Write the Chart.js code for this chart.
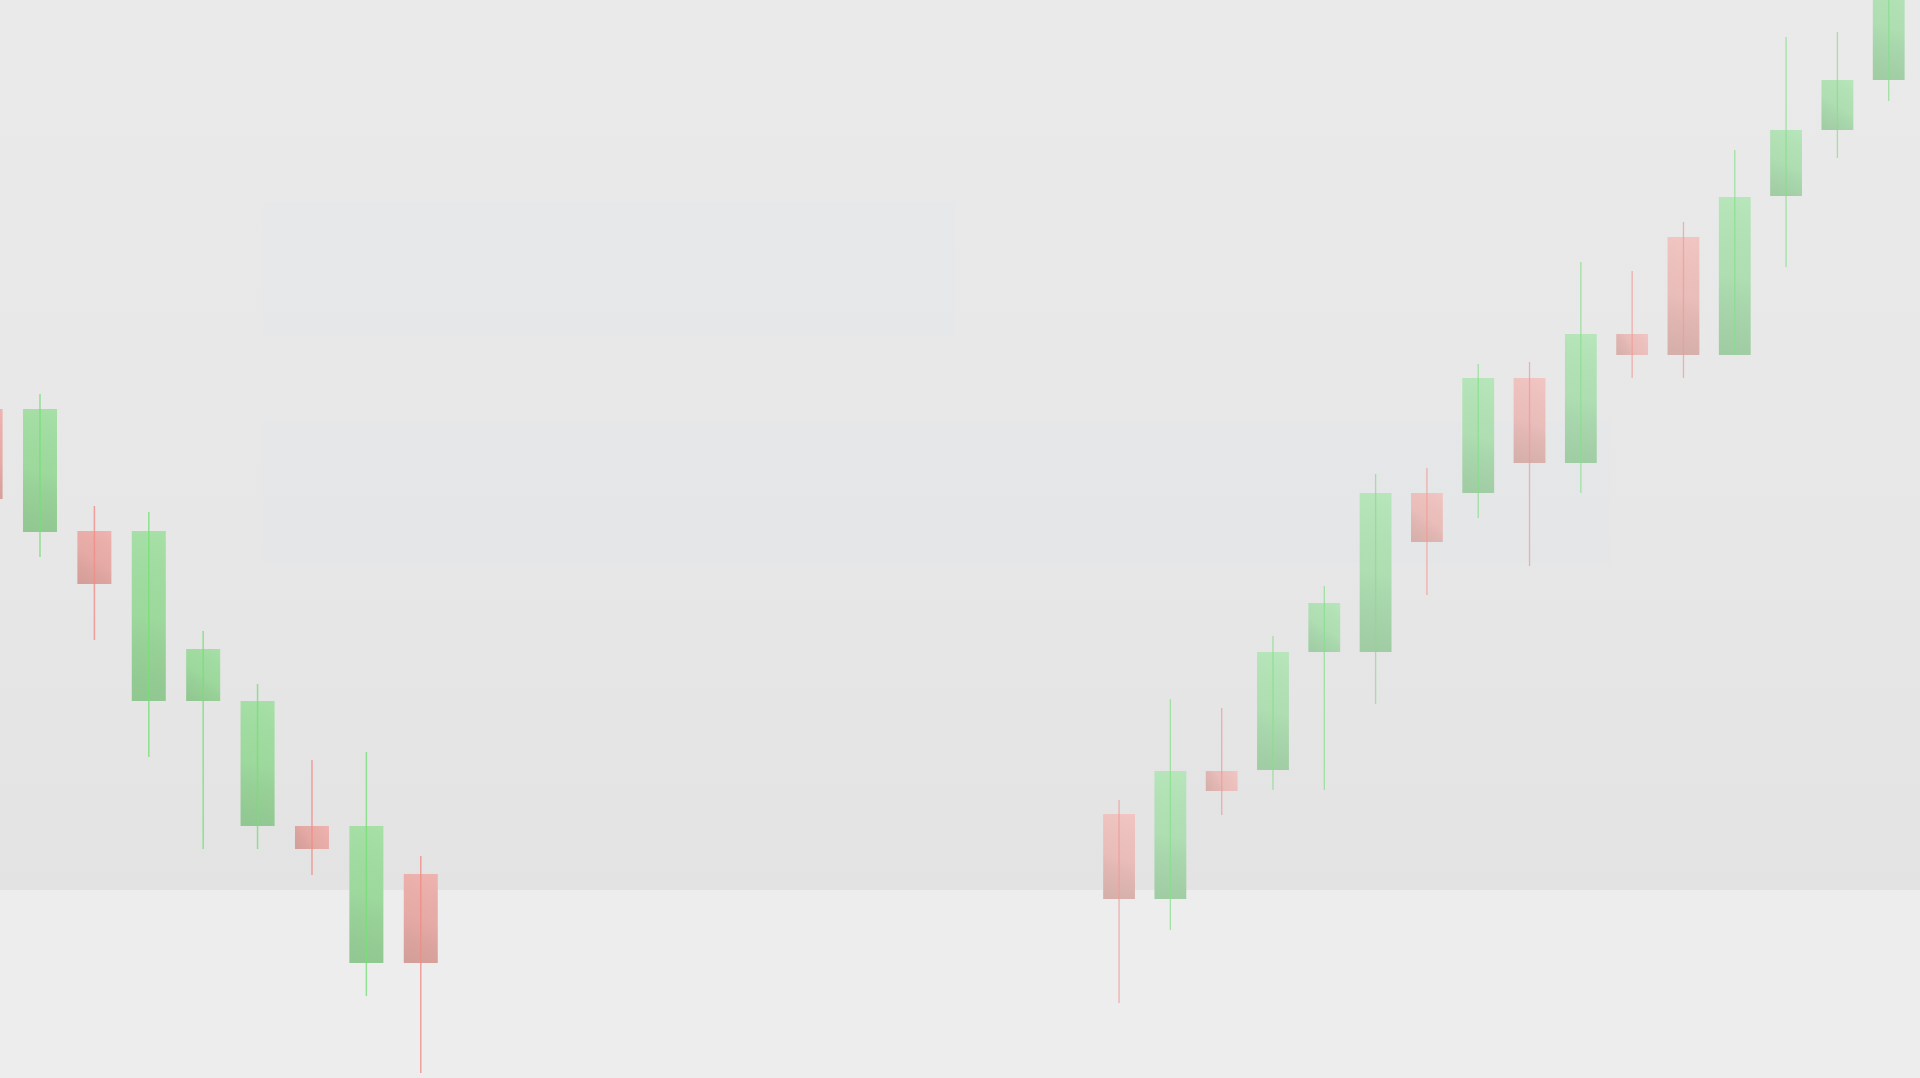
<!DOCTYPE html>
<html>
<head>
<meta charset="utf-8">
<title>Candles</title>
<script src="https://cdn.jsdelivr.net/npm/chart.js@4.4.1/dist/chart.umd.min.js"></script>
<style>
  html, body { margin: 0; padding: 0; background: #e8e8e8; overflow: hidden; }
  #wrap { width: 1920px; height: 1078px; }
</style>
</head>
<body>
<div id="wrap"><canvas id="candleChart" width="1920" height="1078"></canvas></div>
<script>
// left run of sessions (falling)
var leftOpen  = [66.9, 54.6, 54.7, 37.7, 37.7, 25.2, 25.2, 11.5, 20.4];
var leftClose = [57.9, 66.9, 49.4, 54.7, 42.9, 37.7, 22.9, 25.2, 11.5];
var leftHigh  = [68.5, 68.4, 57.2, 56.6, 44.7, 39.4, 31.8, 32.6, 22.2];
var leftLow   = [56.0, 52.1, 43.8, 32.1, 22.9, 22.9, 20.3, 8.2, 0.5];

// right run of sessions (rising)
var rightOpen  = [26.4, 17.9, 30.7, 30.8, 42.6, 42.6, 58.5, 58.5, 70.0, 61.5, 74.4, 84.1, 72.3, 88.2, 94.8, 99.8];
var rightClose = [17.9, 30.7, 28.7, 42.6, 47.5, 58.5, 53.6, 70.0, 61.5, 74.4, 72.3, 72.3, 88.1, 94.8, 99.8, 110.5];
var rightHigh  = [27.8, 37.9, 37.0, 44.2, 49.2, 60.4, 61.0, 71.4, 71.6, 81.6, 80.7, 85.6, 92.8, 104.1, 104.6, 112.0];
var rightLow   = [7.5, 14.8, 26.3, 28.8, 28.8, 37.4, 48.3, 56.0, 51.2, 58.5, 70.0, 70.0, 72.3, 81.1, 92.0, 97.7];

function pairs(a, b) {
    return a.map(function(v, i) { return {x: i, y: [v, b[i]]}; });
}
function upDown(open, close, up, down) {
    return open.map(function(o, i) { return close[i] >= o ? up : down; });
}
// hidden axes: no ticks, so bar width comes from session spacing only
function noTicks(scale) { scale.ticks = []; }

// paper background + faint watermark tint
var backdrop = {
    id: 'backdrop',
    beforeDraw: function(chart) {
        var c = chart.ctx, w = chart.width, h = chart.height;
        c.save();
        var g = c.createLinearGradient(0, 0, 0, 890);
        g.addColorStop(0, '#eaeaea');
        g.addColorStop(0.6, '#e7e7e7');
        g.addColorStop(1, '#e3e3e3');
        c.fillStyle = g;
        c.fillRect(0, 0, w, 890);
        c.fillStyle = '#ededed';
        c.fillRect(0, 890, w, h - 890);
        c.fillStyle = 'rgba(215, 230, 242, 0.10)';
        c.fillRect(263, 202, 692, 135);
        c.fillRect(263, 422, 1347, 141);
        c.restore();
    }
};

// soft diagonal shading on candle bodies
var bodyShade = {
    id: 'bodyShade',
    afterDatasetDraw: function(chart, args) {
        if (args.meta.controller.getDataset().isBody !== true) return;
        var c = chart.ctx;
        c.save();
        c.beginPath();
        c.rect(chart.chartArea.left, chart.chartArea.top, chart.chartArea.width, chart.chartArea.height);
        c.clip();
        args.meta.data.forEach(function(el) {
            var p = el.getProps(['x', 'y', 'base', 'width'], true);
            var top = Math.min(p.y, p.base), bot = Math.max(p.y, p.base);
            var l = p.x - p.width / 2;
            var g = c.createLinearGradient(l + p.width, top, l, bot);
            g.addColorStop(0, 'rgba(255,255,255,0.05)');
            g.addColorStop(0.5, 'rgba(0,0,0,0.03)');
            g.addColorStop(1, 'rgba(40,50,40,0.14)');
            c.fillStyle = g;
            c.fillRect(l, top, p.width, bot - top);
        });
        c.restore();
    }
};

var ctx = document.getElementById('candleChart');

var candleChart = new Chart(ctx, {
    type: 'bar',
    data: {
        datasets: [{
            label: 'left wicks',
            xAxisID: 'xL',
            data: pairs(leftLow, leftHigh),
            backgroundColor: upDown(leftOpen, leftClose, 'rgba(120, 222, 120, 0.8)', 'rgba(240, 140, 135, 0.8)'),
            maxBarThickness: 1.5,
            order: 0
        }, {
            label: 'left bodies',
            isBody: true,
            xAxisID: 'xL',
            data: pairs(leftOpen, leftClose),
            backgroundColor: upDown(leftOpen, leftClose, '#a2dfa2', '#eeb0ab'),
            barPercentage: 0.625,
            order: 1
        }, {
            label: 'right wicks',
            xAxisID: 'xR',
            data: pairs(rightLow, rightHigh),
            backgroundColor: upDown(rightOpen, rightClose, 'rgba(135, 222, 140, 0.75)', 'rgba(240, 155, 150, 0.75)'),
            maxBarThickness: 1.3,
            order: 0
        }, {
            label: 'right bodies',
            isBody: true,
            xAxisID: 'xR',
            data: pairs(rightOpen, rightClose),
            backgroundColor: upDown(rightOpen, rightClose, '#b4e5b8', '#f1c3bf'),
            barPercentage: 0.62,
            order: 1
        }]
    },
    options: {
        responsive: false,
        animation: false,
        layout: { padding: 0 },
        datasets: {
            bar: {
                grouped: false,
                categoryPercentage: 1,
                borderWidth: 0
            }
        },
        plugins: {
            legend: { display: false },
            tooltip: { enabled: false }
        },
        scales: {
            xL: {
                type: 'linear',
                display: false,
                offset: false,
                bounds: 'data',
                min: 0.265,
                max: 35.56,
                afterBuildTicks: noTicks
            },
            xR: {
                type: 'linear',
                display: false,
                offset: false,
                bounds: 'data',
                min: -21.81,
                max: 15.61,
                afterBuildTicks: noTicks
            },
            y: {
                type: 'linear',
                display: false,
                bounds: 'data',
                min: 0,
                max: 107.8
            }
        }
    },
    plugins: [backdrop, bodyShade]
});
</script>
</body>
</html>
